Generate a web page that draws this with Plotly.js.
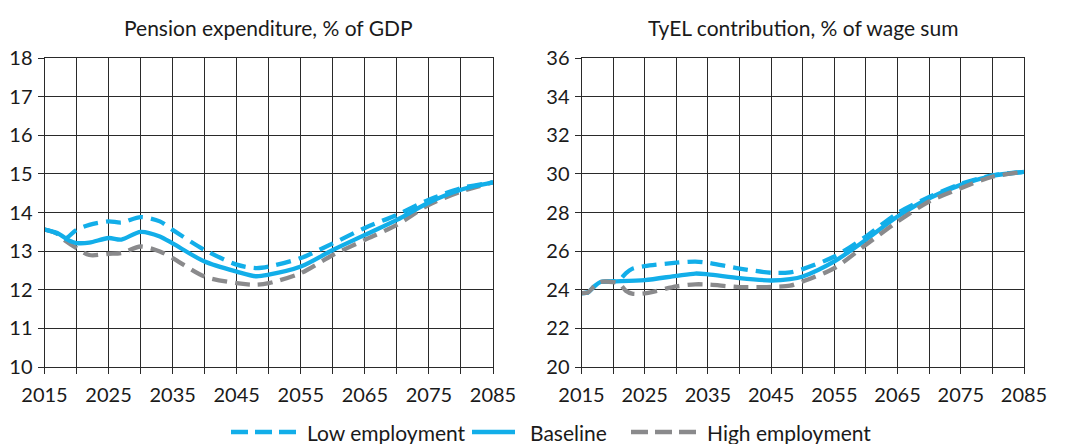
<!DOCTYPE html>
<html><head><meta charset="utf-8">
<script src="https://cdn.plot.ly/plotly-3.0.1.min.js"></script>
<style>html,body{margin:0;padding:0;background:#fff}#c{width:1067px;height:444px}</style>
</head><body><div id="c"></div>
<script>
// Pension expenditure, % of GDP
const gdpYearsBase = [2015,2017,2019,2020,2022,2025,2027,2030,2033,2035,2040,2045,2048,2050,2055,2060,2065,2070,2075,2080,2085];
const gdpBase      = [13.56,13.47,13.26,13.21,13.22,13.34,13.30,13.50,13.38,13.20,12.73,12.47,12.35,12.39,12.60,13.03,13.42,13.81,14.26,14.59,14.78];
const gdpYearsLow  = [2015,2017,2018,2020,2022,2025,2027,2030,2033,2035,2040,2045,2048,2050,2055,2060,2065,2070,2075,2080,2085];
const gdpLow       = [13.56,13.45,13.30,13.55,13.68,13.77,13.74,13.88,13.77,13.55,13.03,12.65,12.56,12.60,12.82,13.20,13.60,13.94,14.33,14.63,14.78];
const gdpYearsHigh = [2015,2017,2018,2020,2022,2025,2027,2030,2033,2035,2040,2045,2048,2050,2055,2060,2065,2070,2075,2080,2085];
const gdpHigh      = [13.56,13.45,13.30,13.08,12.90,12.93,12.95,13.12,12.99,12.82,12.34,12.17,12.13,12.17,12.43,12.90,13.29,13.68,14.20,14.54,14.78];

// TyEL contribution, % of wage sum
const tyelYearsBase = [2015,2016,2017,2018,2020,2025,2030,2033,2035,2040,2045,2048,2050,2055,2060,2065,2070,2075,2080,2085];
const tyelBase      = [23.83,23.86,24.17,24.40,24.43,24.50,24.72,24.84,24.80,24.60,24.48,24.55,24.69,25.47,26.59,27.79,28.74,29.43,29.90,30.10];
const tyelYearsLow  = [2015,2016,2017,2018,2020,2021,2022,2023,2025,2030,2033,2035,2040,2045,2048,2050,2055,2060,2065,2070,2075,2080,2085];
const tyelLow       = [23.83,23.86,24.17,24.40,24.43,24.50,24.85,25.08,25.22,25.40,25.46,25.40,25.10,24.88,24.90,25.07,25.72,26.76,27.97,28.80,29.48,29.92,30.10];
const tyelYearsHigh = [2015,2016,2017,2018,2020,2021,2022,2023,2025,2030,2033,2035,2040,2045,2048,2050,2055,2060,2065,2070,2075,2080,2085];
const tyelHigh      = [23.83,23.86,24.17,24.40,24.40,24.32,23.95,23.80,23.81,24.17,24.28,24.27,24.14,24.15,24.21,24.43,25.12,26.33,27.53,28.57,29.26,29.85,30.10];

const seriesNames = ['Low employment','Baseline','High employment'];
const tickYears = [2015,2020,2025,2030,2035,2040,2045,2050,2055,2060,2065,2070,2075,2080,2085];
const tickYearLabels = ['2015','','2025','','2035','','2045','','2055','','2065','','2075','','2085'];
const titles = ['Pension expenditure, % of GDP','TyEL contribution, % of wage sum'];

const BLUE = '#12aee9', GREY = '#8a8a8c', INK = '#1a1a1a', GRID = '#2a2a2a';
const FONT = 'Lato, "Open Sans", sans-serif';
const dashStyle = '15px,8px';
const W = 1067, H = 444;

function tr(x,y,name,color,dash,xa,ya){
  return {x:x,y:y,name:name,type:'scatter',mode:'lines',xaxis:xa,yaxis:ya,showlegend:false,
    line:{color:color,width:4.3,dash:dash,shape:'spline',smoothing:0.8}};
}
const data = [
  tr(gdpYearsHigh,gdpHigh,seriesNames[2],GREY,dashStyle,'x','y'),
  tr(gdpYearsLow,gdpLow,seriesNames[0],BLUE,dashStyle,'x','y'),
  tr(gdpYearsBase,gdpBase,seriesNames[1],BLUE,'solid','x','y'),
  tr(tyelYearsLow,tyelLow,seriesNames[0],BLUE,dashStyle,'x2','y2'),
  tr(tyelYearsBase,tyelBase,seriesNames[1],BLUE,'solid','x2','y2'),
  tr(tyelYearsHigh,tyelHigh,seriesNames[2],GREY,dashStyle,'x2','y2')
];
function common(){
  return {showgrid:true,gridcolor:GRID,gridwidth:1,showline:true,mirror:true,linecolor:GRID,linewidth:1,
    ticks:'outside',ticklen:6,tickcolor:GRID,zeroline:false,automargin:false,
    tickfont:{family:FONT,size:20,color:INK}};
}
function xax(dom,anchor){
  return Object.assign(common(),{domain:dom,anchor:anchor,range:[2015,2085],tickvals:tickYears,ticktext:tickYearLabels,ticklabelstandoff:4});
}
function yax(dom,anchor,range,dtick){
  return Object.assign(common(),{domain:dom,anchor:anchor,range:range,dtick:dtick,tick0:range[0],ticklabelstandoff:1});
}
const yd=[1-367/H,1-58/H];
const legY = 1-432/H;
const legendItems = [
  {name:seriesNames[0],color:BLUE,dash:'17px,7px',x0:231,x1:296,tx:305},
  {name:seriesNames[1],color:BLUE,dash:'solid',x0:472,x1:515,tx:528},
  {name:seriesNames[2],color:GREY,dash:'17px,7px',x0:631,x1:696,tx:705}
];
const shapes = legendItems.map(it=>({type:'line',xref:'paper',yref:'paper',x0:it.x0/W,x1:it.x1/W,y0:legY,y1:legY,
  line:{color:it.color,width:4.5,dash:it.dash}}));
const annotations = [
  {text:titles[0],xref:'paper',yref:'paper',x:(44.5+493)/2/W,y:1-27/H,xanchor:'center',yanchor:'middle',showarrow:false,font:{family:FONT,size:21,color:INK}},
  {text:titles[1],xref:'paper',yref:'paper',x:(581.5+1024)/2/W,y:1-27/H,xanchor:'center',yanchor:'middle',showarrow:false,font:{family:FONT,size:21,color:INK}}
].concat(legendItems.map(it=>({text:it.name,xref:'paper',yref:'paper',x:it.tx/W,y:legY,xanchor:'left',yanchor:'middle',
  showarrow:false,font:{family:FONT,size:21,color:INK}})));
const layout = {
  width:W,height:H,margin:{l:0,r:0,t:0,b:0},paper_bgcolor:'#fff',plot_bgcolor:'#fff',
  xaxis:xax([44.5/W,493/W],'y'),
  yaxis:yax(yd,'x',[10,18],1),
  xaxis2:xax([581.5/W,1024/W],'y2'),
  yaxis2:yax(yd,'x2',[20,36],2),
  showlegend:false,
  shapes:shapes,
  annotations:annotations
};
Plotly.newPlot('c',data,layout,{displayModeBar:false,staticPlot:true});
</script></body></html>
